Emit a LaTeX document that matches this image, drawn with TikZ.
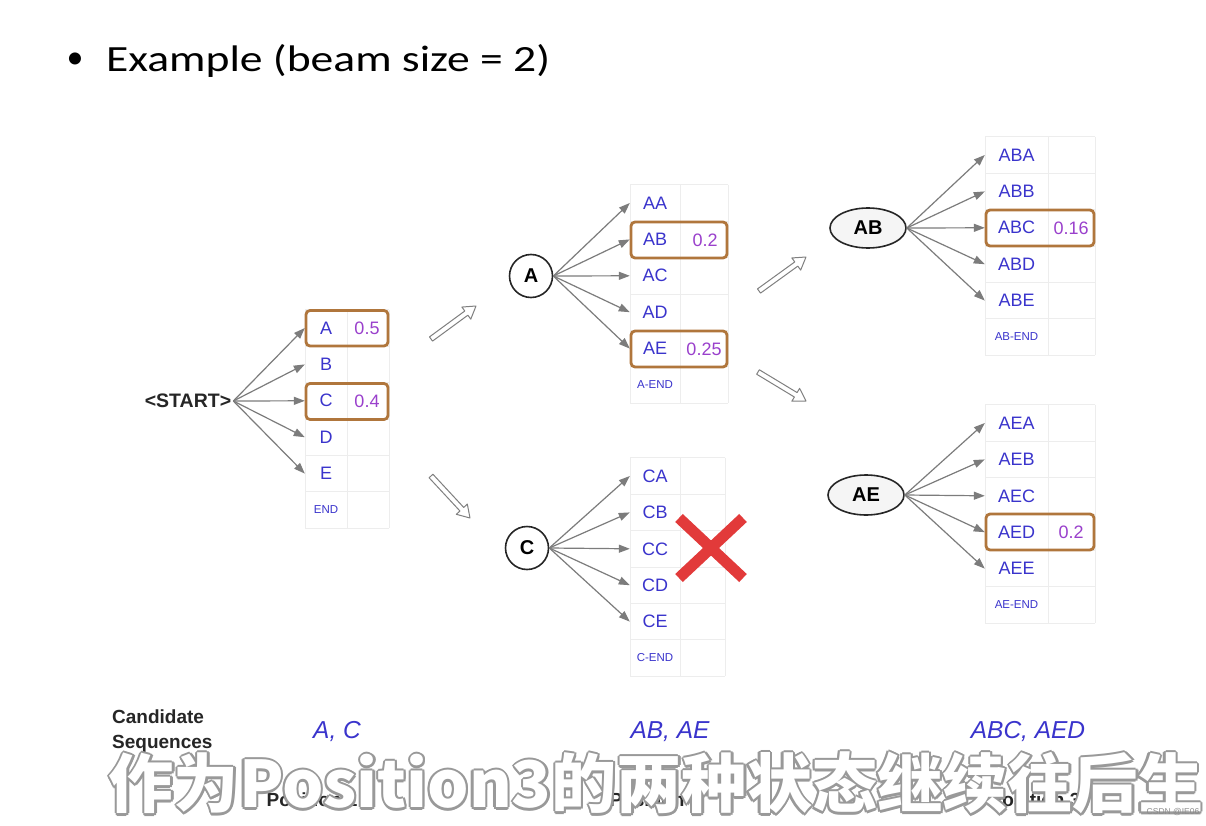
\documentclass[tikz,border=0pt]{standalone}
\usepackage{fontspec}
\setmainfont{Liberation Sans}
\newfontfamily\titlefont{Carlito}
\newfontfamily\cjkfont{Noto Sans CJK SC}
\usetikzlibrary{arrows.meta,shapes.geometric,calc}
\definecolor{lblue}{HTML}{3A34CC}
\definecolor{lpurple}{HTML}{9A40CC}
\definecolor{hbrown}{HTML}{B0763C}
\definecolor{gridc}{HTML}{EDEDED}
\definecolor{arrc}{HTML}{7C7C7C}
\definecolor{xred}{HTML}{E23A3A}
\definecolor{subgray}{HTML}{999999}
\tikzset{
  cell/.style={inner sep=0pt, minimum height=36pt, text=lblue, font=\fontsize{18}{18}\selectfont},
  endcell/.style={cell, font=\fontsize{11.5}{12}\selectfont},
  val/.style={inner sep=0pt, text=lpurple, font=\fontsize{18}{18}\selectfont},
  gridline/.style={draw=gridc, line width=0.8pt},
  hl/.style={draw=hbrown, line width=2.8pt, rounded corners=4pt},
  fan/.style={draw=arrc, line width=1.2pt, -{Triangle[length=11pt,width=8pt]}},
  srccirc/.style={circle, draw=black!85, line width=1.6pt, fill=white, minimum size=43pt, inner sep=0pt, font=\fontsize{20}{20}\selectfont\bfseries},
  srcell/.style={ellipse, draw=black!85, line width=1.6pt, fill=black!4, minimum width=76pt, minimum height=40pt, inner sep=0pt, font=\fontsize{20}{20}\selectfont\bfseries},
  hollowpoly/.style={draw=black!50, line width=1pt, fill=white, line join=round},
  candseq/.style={text=lblue, font=\fontsize{24.5}{24.5}\selectfont\itshape},
  poslab/.style={text=black!85, font=\fontsize{19}{19}\selectfont\bfseries},
}
% #1 name, #2 L, #3 M, #4 R, #5 first row centre y, #6 labels, #7 end label
\newcommand\beamtable[7]{%
  \pgfmathsetmacro\btw{#3-#2}%
  \pgfmathsetmacro\bttop{#5-18.2}%
  \pgfmathsetmacro\btbot{#5+5*36.4+18.2}%
  \foreach \k in {0,...,6}{\draw[gridline] (#2,{\bttop+\k*36.4}) -- (#4,{\bttop+\k*36.4});}
  \draw[gridline] (#2,\bttop) -- (#2,\btbot);
  \draw[gridline] (#3,\bttop) -- (#3,\btbot);
  \draw[gridline] (#4,\bttop) -- (#4,\btbot);
  \foreach \lab [count=\i] in {#6}{%
    \node[cell, minimum width=\btw pt] (#1-\i) at ({(#2+#3)/2},{#5+(\i-1)*36.4}) {\lab};
  }
  \node[endcell, minimum width=\btw pt] (#1-6) at ({(#2+#3)/2},{#5+5*36.4}) {#7};
}
% hollow block arrow from coordinate #1 to coordinate #2
\newcommand\hollowarrow[2]{%
  \coordinate (#1b) at ($(#2)!12pt!(#1)$);
  \draw[hollowpoly] ($(#1)!2.6pt!90:(#2)$) -- ($(#1b)!2.6pt!90:(#2)$) -- ($(#1b)!7.5pt!90:(#2)$) -- (#2)
    -- ($(#1b)!7.5pt!-90:(#2)$) -- ($(#1b)!2.6pt!-90:(#2)$) -- ($(#1)!2.6pt!-90:(#2)$) -- cycle;
}
\begin{document}
\begin{tikzpicture}[x=1pt,y=-1pt]
\useasboundingbox[fill=white] (0,0) rectangle (1206,826);

% title
\node[inner sep=0pt, font=\fontsize{34}{34}\titlefont] (bullet) at (75,61) {•};
\node[inner sep=0pt, anchor=west] (title) at (106,61) {\resizebox*{444pt}{33pt}{\titlefont Example (beam size = 2)}};

% ---- position 1
\beamtable{t1}{305}{347}{389}{328}{A,B,C,D,E}{END}
\node[val] (v1a) at (367,328) {0.5};
\node[val] (v1c) at (367,401) {0.4};
\draw[hl] (306,310.5) rectangle (388,346);
\draw[hl] (306,383.5) rectangle (388,419.5);
\node[inner sep=2pt, font=\fontsize{19.5}{20}\selectfont\bfseries, text=black!85] (start) at (188,401) {<START>};
\foreach \i in {1,...,5}{\draw[fan] (start.east) -- (t1-\i.west);}

% ---- A branch
\beamtable{ta}{630}{680}{728}{203}{AA,AB,AC,AD,AE}{A-END}
\node[val] (vab) at (705,240) {0.2};
\node[val] (vae) at (704,349) {0.25};
\draw[hl] (631,222) rectangle (727,258);
\draw[hl] (631,331) rectangle (727,367);
\node[srccirc] (nA) at (531,276) {A};
\foreach \i in {1,...,5}{\draw[fan] (nA.east) -- (ta-\i.west);}

% ---- C branch
\beamtable{tc}{630}{680}{725}{476}{CA,CB,CC,CD,CE}{C-END}
\node[srccirc] (nC) at (527,548) {C};
\foreach \i in {1,...,5}{\draw[fan] (nC.east) -- (tc-\i.west);}
\coordinate (x1) at (679,518); \coordinate (x2) at (743,578);
\coordinate (x3) at (743,518); \coordinate (x4) at (679,578);
\draw[xred, line width=11pt] (x1) -- (x2);
\draw[xred, line width=11pt] (x3) -- (x4);

% ---- AB branch
\beamtable{tab}{985}{1048}{1095}{155}{ABA,ABB,ABC,ABD,ABE}{AB-END}
\node[val] (vabc) at (1071,228) {0.16};
\draw[hl] (986,210) rectangle (1094,246);
\node[srcell] (nAB) at (868,228) {AB};
\foreach \i in {1,...,5}{\draw[fan] (nAB.east) -- (tab-\i.west);}

% ---- AE branch
\beamtable{tae}{985}{1048}{1095}{423}{AEA,AEB,AEC,AED,AEE}{AE-END}
\node[val] (vaed) at (1071,532) {0.2};
\draw[hl] (986,514) rectangle (1094,550);
\node[srcell] (nAE) at (866,495) {AE};
\foreach \i in {1,...,5}{\draw[fan] (nAE.east) -- (tae-\i.west);}

% ---- hollow transition arrows
\coordinate (h1s) at (431,339); \coordinate (h1e) at (476,306);
\coordinate (h2s) at (431,476); \coordinate (h2e) at (470,518);
\coordinate (h3s) at (759,291); \coordinate (h3e) at (806,257);
\coordinate (h4s) at (758,372); \coordinate (h4e) at (806,401);
\hollowarrow{h1s}{h1e}
\hollowarrow{h2s}{h2e}
\hollowarrow{h3s}{h3e}
\hollowarrow{h4s}{h4e}

% ---- bottom labels
\node[anchor=west, align=left, inner sep=0pt, text=black!85, font=\fontsize{19}{25}\selectfont\bfseries] (cand) at (112,731) {Candidate\\Sequences};
\node[candseq] (cs1) at (337,732) {A, C};
\node[candseq] (cs2) at (670,732) {AB, AE};
\node[candseq] (cs3) at (1028,732) {ABC, AED};
\node[poslab] (p1) at (312,800) {Position 1};
\node[poslab] (p2) at (655,800) {Position 2};
\node[poslab] (p3) at (1035,800) {Position 3};

% ---- subtitle overlay
\foreach \dx/\dy in {-2.3/0,2.3/0,0/-2.3,0/2.3,-1.6/-1.6,1.6/-1.6,-1.6/1.6,1.6/1.6}{
  \node[inner sep=0pt, text=subgray] at ({656+\dx},{783+\dy}) {\resizebox*{1094pt}{62pt}{\cjkfont\bfseries 作为Position3的两种状态继续往后生}};
}
\node[inner sep=0pt, text=white] (subtitle) at (656,783) {\resizebox*{1094pt}{62pt}{\cjkfont\bfseries 作为Position3的两种状态继续往后生}};
\node[inner sep=0pt, text=black!45, font=\fontsize{8.5}{9}\selectfont] (wm) at (1173,812) {CSDN @IE06};
\end{tikzpicture}
\end{document}
